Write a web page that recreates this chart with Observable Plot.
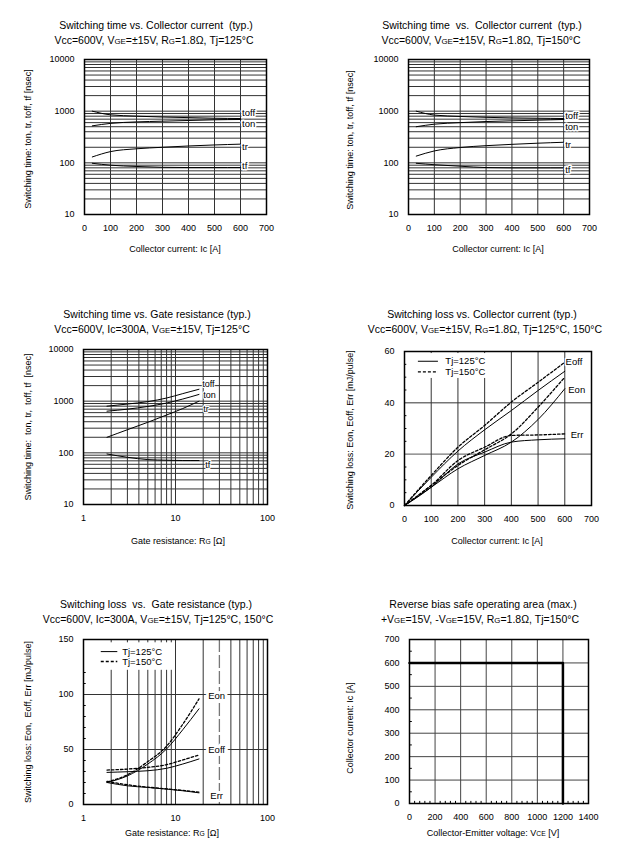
<!DOCTYPE html>
<html><head><meta charset="utf-8">
<script src="https://cdn.jsdelivr.net/npm/d3@7"></script>
<script src="https://cdn.jsdelivr.net/npm/@observablehq/plot@0.6"></script>
<style>
body{margin:0;background:#fff;}
#root{position:relative;width:625px;height:852px;font-family:"Liberation Sans",Arial,sans-serif;color:#000;overflow:hidden;background:#fff;}
.lbl{position:absolute;white-space:nowrap;line-height:1;transform:translate(-50%,-50%);}
.s{font-size:0.75em;}
svg{overflow:visible;}
</style></head><body><div id="root"></div>
<script>
// ---------- DATA ----------
// Switching time vs collector current
const icT = [30, 100, 200, 300, 400, 500, 600];
const toff125 = [1000, 850, 800, 770, 750, 730, 720];
const ton125  = [520, 580, 620, 640, 660, 680, 690];
const tr125   = [130, 165, 187, 200, 212, 222, 230];
const tf125   = [98, 90, 85, 82, 81, 81, 81];
const toff150 = [1000, 840, 790, 760, 740, 730, 720];
const ton150  = [500, 560, 600, 630, 650, 670, 690];
const tr150   = [135, 170, 198, 215, 228, 240, 250];
const tf150   = [98, 92, 86, 81, 80, 80, 80];
// Switching time vs gate resistance
const rgT = [1.8, 3, 5, 8, 12, 18];
const toffRg = [800, 880, 980, 1150, 1400, 1700];
const tonRg  = [640, 700, 790, 920, 1100, 1350];
const trRg   = [200, 280, 390, 540, 720, 1000];
const tfRg   = [95, 82, 74, 72, 71, 71];
// Switching loss vs collector current
const icE = [0, 100, 200, 300, 400, 500, 600];
const eoff125 = [0, 11, 21.2, 29.5, 37, 44.8, 52.3];
const eoff150 = [0, 11.7, 22.7, 31.2, 40.3, 48, 55.8];
const eon125  = [0, 7.1, 14.3, 19.5, 24.7, 33.5, 45.5];
const eon150  = [0, 7.8, 15.6, 21.7, 27.9, 38.3, 50];
const err125  = [0, 7.1, 16.2, 20.8, 24.7, 25.6, 26];
const err150  = [0, 7.8, 17.5, 22.7, 27.3, 27.5, 27.9];
// Switching loss vs gate resistance
const rgE = [1.8, 3, 5, 8, 12, 18];
const eonRg125  = [20, 26, 36.8, 50.5, 68, 87];
const eonRg150  = [20.5, 27, 39, 53, 73, 96];
const eoffRg125 = [29.2, 29.8, 30.7, 32.9, 36.8, 41.4];
const eoffRg150 = [31.3, 32.2, 33.8, 36.2, 40.5, 45];
const errRg125  = [20, 17, 15.5, 14, 12.5, 10.6];
const errRg150  = [21, 18, 15.8, 14.2, 12.8, 11.3];
// RBSOA
const vceSoa = [0, 1200, 1200];
const icSoa  = [600, 600, 0];
// tick labels
const icTicks = [0, 100, 200, 300, 400, 500, 600, 700];
const timeTicks = [10, 100, 1000, 10000];
const rgTicks = [1, 10, 100];
const lossIcTicks = [0, 20, 40, 60];
const lossRgTicks = [0, 50, 100, 150];
const vceTicks = [0, 200, 400, 600, 800, 1000, 1200, 1400];
const soaIcTicks = [0, 100, 200, 300, 400, 500, 600, 700];
const timeNames = ["toff", "ton", "tr", "tf"];
const lossNames = ["Eoff", "Eon", "Err"];
const legendNames = ["Tj=125°C", "Tj=150°C"];

// ---------- HELPERS ----------
const root = document.getElementById("root");
const FONT = '"Liberation Sans", Arial, sans-serif';
function addLabel(html, cx, cy, size, rot) {
  const d = document.createElement("div");
  d.className = "lbl";
  d.innerHTML = html;
  d.style.left = cx + "px";
  d.style.top = cy + "px";
  d.style.fontSize = size + "px";
  if (rot) d.style.transform = "translate(-50%,-50%) rotate(-90deg)";
  root.appendChild(d);
}
const pts = (xs, ys) => xs.map((x, i) => ({x, y: ys[i]}));
const logGrid = (lo, hi) => {
  const g = [];
  for (let d = lo; d < hi; d *= 10) for (let k = 1; k < 10; k++) g.push(d * k);
  g.push(hi);
  return g.filter(v => v > lo && v < hi);
};
const GRID = "#333";
const solid = {stroke: "black", strokeWidth: 1, curve: "monotone-x"};
const dashed = {stroke: "black", strokeWidth: 1.3, strokeDasharray: "2.5,2", curve: "monotone-x"};

function panel(fr, opts) {
  const L = fr.x0 - 90, T = fr.y0 - 20, W = fr.x1 - L + 60, H = fr.y1 - T + 30;
  const svg = Plot.plot({
    width: W, height: H,
    marginLeft: fr.x0 - L, marginRight: L + W - fr.x1,
    marginTop: fr.y0 - T, marginBottom: T + H - fr.y1,
    style: {fontFamily: FONT, fontSize: "9px", background: "transparent", overflow: "visible"},
    x: opts.x, y: opts.y,
    marks: [
      ...opts.marks,
      Plot.frame({stroke: "black", strokeWidth: 1.5}),
      Plot.axisX({ticks: opts.xTicks, tickSize: 0, tickPadding: 10, label: null, tickFormat: d => String(d), fontSize: 9}),
      Plot.axisY({ticks: opts.yTicks, tickSize: 0, tickPadding: 10, label: null, tickFormat: d => String(d), fontSize: 9})
    ]
  });
  svg.style.position = "absolute";
  svg.style.left = L + "px";
  svg.style.top = T + "px";
  root.appendChild(svg);
}

const txt = (data, o) => Plot.text(data, {x: "x", y: "y", text: "t", fill: "black", stroke: "white", strokeWidth: 3, paintOrder: "stroke", fontSize: 9.5, ...o});

// ---------- PANEL 1 & 2: time vs Ic ----------
function timeIcPanel(fr, toff, ton, tr, tf, labY) {
  panel(fr, {
    x: {type: "linear", domain: [0, 700]},
    y: {type: "log", domain: [10, 10000]},
    xTicks: icTicks, yTicks: timeTicks,
    marks: [
      Plot.ruleY(logGrid(10, 10000), {stroke: GRID, strokeWidth: 1}),
      Plot.ruleX(icTicks.slice(1, -1), {stroke: GRID, strokeWidth: 1}),
      Plot.line(pts(icT, toff), {x: "x", y: "y", ...solid}),
      Plot.line(pts(icT, ton), {x: "x", y: "y", ...solid}),
      Plot.line(pts(icT, tr), {x: "x", y: "y", ...solid}),
      Plot.line(pts(icT, tf), {x: "x", y: "y", ...solid}),
      txt(timeNames.map((t, i) => ({t, x: 606, y: labY[i]})), {textAnchor: "start"})
    ]
  });
}
timeIcPanel({x0: 84, x1: 266, y0: 59, y1: 214}, toff125, ton125, tr125, tf125, [915, 570, 207, 86]);
timeIcPanel({x0: 408, x1: 589, y0: 59, y1: 214}, toff150, ton150, tr150, tf150, [813, 490, 217, 73]);

// ---------- PANEL 3: time vs Rg ----------
panel({x0: 83, x1: 267, y0: 349, y1: 504}, {
  x: {type: "log", domain: [1, 100]},
  y: {type: "log", domain: [10, 10000]},
  xTicks: rgTicks, yTicks: timeTicks,
  marks: [
    Plot.ruleY(logGrid(10, 10000), {stroke: GRID, strokeWidth: 1}),
    Plot.ruleX(logGrid(1, 100), {stroke: GRID, strokeWidth: 1}),
    Plot.line(pts(rgT, toffRg), {x: "x", y: "y", ...solid}),
    Plot.line(pts(rgT, tonRg), {x: "x", y: "y", ...solid}),
    Plot.line(pts(rgT, trRg), {x: "x", y: "y", ...solid}),
    Plot.line(pts(rgT, tfRg), {x: "x", y: "y", ...solid}),
    txt(timeNames.map((t, i) => ({t, x: [19.5, 20, 20, 21][i], y: [2150, 1290, 710, 57][i]})), {textAnchor: "start", fontSize: 9, strokeWidth: 2})
  ]
});

// ---------- PANEL 4: loss vs Ic ----------
panel({x0: 404, x1: 591, y0: 351, y1: 505}, {
  x: {type: "linear", domain: [0, 700]},
  y: {type: "linear", domain: [0, 60]},
  xTicks: icTicks, yTicks: lossIcTicks,
  marks: [
    Plot.ruleY([20], {stroke: "#777", strokeWidth: 1.3}),
    Plot.ruleY([40], {stroke: GRID, strokeWidth: 1}),
    Plot.ruleX(icTicks.slice(1, -1), {stroke: GRID, strokeWidth: 1}),
    Plot.ruleY(d3.range(5, 60, 5).filter(v => v % 20), {x1: 0, x2: 9, stroke: "black", strokeWidth: 1}),
    Plot.rect([{x1: 10, x2: 370, y1: 49.5, y2: 59.2}], {x1: "x1", x2: "x2", y1: "y1", y2: "y2", fill: "white"}),
    Plot.line(pts(icE, eoff125), {x: "x", y: "y", ...solid}),
    Plot.line(pts(icE, eon125), {x: "x", y: "y", ...solid}),
    Plot.line(pts(icE, err125), {x: "x", y: "y", ...solid}),
    Plot.line(pts(icE, eoff150), {x: "x", y: "y", ...dashed}),
    Plot.line(pts(icE, eon150), {x: "x", y: "y", ...dashed}),
    Plot.line(pts(icE, err150), {x: "x", y: "y", ...dashed}),
    Plot.ruleY([56.2], {x1: 52, x2: 127, stroke: "black", strokeWidth: 1}),
    Plot.ruleY([52.1], {x1: 52, x2: 127, stroke: "black", strokeWidth: 1.3, strokeDasharray: "3,2"}),
    Plot.text(legendNames.map((t, i) => ({t, x: 153, y: [56.2, 52.1][i]})), {x: "x", y: "y", text: "t", textAnchor: "start", fontSize: 9.5}),
    txt(lossNames.map((t, i) => ({t, x: [603, 613, 622][i], y: [55.8, 45, 27.5][i]})), {textAnchor: "start"})
  ]
});

// ---------- PANEL 5: loss vs Rg ----------
panel({x0: 83, x1: 267, y0: 639, y1: 804}, {
  x: {type: "log", domain: [1, 100]},
  y: {type: "linear", domain: [0, 150]},
  xTicks: rgTicks, yTicks: lossRgTicks,
  marks: [
    Plot.ruleY([50, 100], {stroke: GRID, strokeWidth: 1}),
    Plot.ruleX(logGrid(1, 100).filter(v => v !== 30), {stroke: GRID, strokeWidth: 1}),
    Plot.ruleX([30], {stroke: "#777", strokeWidth: 1.3, strokeDasharray: "13,3"}),
    Plot.ruleY(d3.range(10, 150, 10).filter(v => v % 50), {x1: 1, x2: 1.07, stroke: "black", strokeWidth: 1}),
    Plot.rect([{x1: 1.02, x2: 9.6, y1: 122, y2: 147}], {x1: "x1", x2: "x2", y1: "y1", y2: "y2", fill: "white"}),
    Plot.line(pts(rgE, eonRg125), {x: "x", y: "y", ...solid}),
    Plot.line(pts(rgE, eoffRg125), {x: "x", y: "y", ...solid}),
    Plot.line(pts(rgE, errRg125), {x: "x", y: "y", ...solid}),
    Plot.line(pts(rgE, eonRg150), {x: "x", y: "y", ...dashed}),
    Plot.line(pts(rgE, eoffRg150), {x: "x", y: "y", ...dashed}),
    Plot.line(pts(rgE, errRg150), {x: "x", y: "y", ...dashed}),
    Plot.ruleY([139], {x1: 1.56, x2: 2.36, stroke: "black", strokeWidth: 1}),
    Plot.ruleY([130], {x1: 1.56, x2: 2.36, stroke: "black", strokeWidth: 1.3, strokeDasharray: "3,2"}),
    Plot.text(legendNames.map((t, i) => ({t, x: 2.63, y: [139, 130][i]})), {x: "x", y: "y", text: "t", textAnchor: "start", fontSize: 9.5}),
    txt(["Eon", "Eoff", "Err"].map((t, i) => ({t, x: 28, y: [99, 49.7, 8.2][i]})), {textAnchor: "middle", strokeWidth: 6})
  ]
});

// ---------- PANEL 6: RBSOA ----------
panel({x0: 409, x1: 588, y0: 639, y1: 803}, {
  x: {type: "linear", domain: [0, 1400]},
  y: {type: "linear", domain: [0, 700]},
  xTicks: vceTicks, yTicks: soaIcTicks,
  marks: [
    Plot.ruleX(vceTicks.slice(1, -1), {stroke: "#444", strokeWidth: 1}),
    Plot.ruleY(soaIcTicks.slice(1, -1), {stroke: "#444", strokeWidth: 1}),
    Plot.ruleY(d3.range(50, 700, 100), {x1: 0, x2: 22, stroke: "black", strokeWidth: 1}),
    Plot.ruleX(d3.range(40, 1400, 40).filter(v => v % 200), {y1: 0, y2: 9, stroke: "black", strokeWidth: 1}),
    Plot.line(pts(vceSoa, icSoa), {x: "x", y: "y", stroke: "black", strokeWidth: 2.5})
  ]
});

// ---------- TEXT: titles, subtitles, axis labels ----------
const TS = 10.5, AS = 9;
addLabel("Switching time vs. Collector current&nbsp; (typ.)", 156, 25, TS);
addLabel('Vcc=600V, V<span class="s">GE</span>=±15V, R<span class="s">G</span>=1.8Ω, Tj=125°C', 154, 40, TS);
addLabel("Switching time&nbsp; vs.&nbsp; Collector current&nbsp; (typ.)", 482, 25, TS);
addLabel('Vcc=600V, V<span class="s">GE</span>=±15V, R<span class="s">G</span>=1.8Ω, Tj=150°C', 481, 40, TS);
addLabel("Switching time vs. Gate resistance (typ.)", 157, 314, TS);
addLabel('Vcc=600V, Ic=300A, V<span class="s">GE</span>=±15V, Tj=125°C', 152, 329, TS);
addLabel("Switching loss vs. Collector current (typ.)", 482, 314, TS);
addLabel('Vcc=600V, V<span class="s">GE</span>=±15V, R<span class="s">G</span>=1.8Ω, Tj=125°C, 150°C', 485, 329, TS);
addLabel("Switching loss&nbsp; vs.&nbsp; Gate resistance (typ.)", 156, 604, TS);
addLabel('Vcc=600V, Ic=300A, V<span class="s">GE</span>=±15V, Tj=125°C, 150°C', 158, 619, TS);
addLabel("Reverse bias safe operating area (max.)", 483, 604, TS);
addLabel('+V<span class="s">GE</span>=15V, -V<span class="s">GE</span>=15V, R<span class="s">G</span>=1.8Ω, Tj=150°C', 480, 619, TS);

addLabel("Collector current: Ic [A]", 175, 249, AS);
addLabel("Collector current: Ic [A]", 498, 249, AS);
addLabel('Gate resistance: R<span class="s">G</span> [Ω]', 178, 541, AS);
addLabel("Collector current: Ic [A]", 497, 541, AS);
addLabel('Gate resistance: R<span class="s">G</span> [Ω]', 172, 833, AS);
addLabel('Collector-Emitter voltage: V<span class="s">CE</span> [V]', 493, 833, AS);

addLabel("Switching time: ton, tr, toff, tf [nsec]", 28, 139, AS, true);
addLabel("Switching time: ton, tr, toff, tf [nsec]", 350, 140, AS, true);
addLabel("Switching time:&nbsp; ton, tr,&nbsp; toff, tf&nbsp; [nsec]", 28, 427, AS, true);
addLabel("Switching loss: Eon, Eoff, Err [mJ/pulse]", 350, 430, AS, true);
addLabel("Switching loss: Eon,&nbsp; Eoff, Err [mJ/pulse]", 28, 722, AS, true);
addLabel("Collector current: Ic [A]", 350, 728, AS, true);
</script></body></html>
